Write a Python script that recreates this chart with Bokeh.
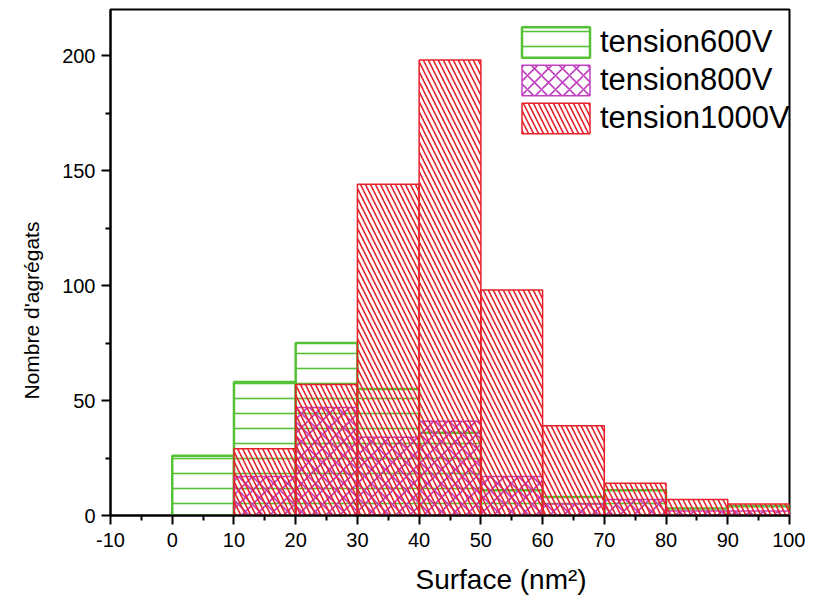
from bokeh.plotting import figure
from bokeh.models import FixedTicker, Legend, LegendItem, Range1d, Title
from bokeh.embed import file_html
from bokeh.resources import INLINE

bin_starts = [0, 10, 20, 30, 40, 50, 60, 70, 80, 90]
bin_width = 10
series_names = ["tension600V", "tension800V", "tension1000V"]
counts_600 = [26, 58, 75, 55, 36, 11, 8, 11, 3, 4]
counts_800 = [0, 17, 47, 34, 41, 17, 5, 7, 2, 2]
counts_1000 = [0, 29, 57, 144, 198, 98, 39, 14, 7, 5]
x_ticks = [-10, 0, 10, 20, 30, 40, 50, 60, 70, 80, 90, 100]
y_ticks = [0, 50, 100, 150, 200]

FONT = "Liberation Sans"

p = figure(width=805, height=607, output_backend="svg", toolbar_location=None,
           x_range=Range1d(-10, 100), y_range=Range1d(0, 220),
           min_border_left=110, min_border_right=16, min_border_top=9, min_border_bottom=84)
p.xgrid.visible = False
p.ygrid.visible = False
p.outline_line_color = "black"
p.outline_line_width = 2
p.outline_line_alpha = 1

styles = [
    dict(color="#55c236", pattern="horizontal_line", scale=15.0, lw=2.5),
    dict(color="#c040c0", pattern="diagonal_cross", scale=14.0, lw=1.5),
    dict(color="#e8202a", pattern="left_diagonal_line", scale=10.0, lw=1.5),
]
all_counts = [counts_600, counts_800, counts_1000]
items = []
for name, counts, st in zip(series_names, all_counts, styles):
    lefts = [b for b, c in zip(bin_starts, counts) if c > 0]
    rights = [b + bin_width for b, c in zip(bin_starts, counts) if c > 0]
    tops = [c for c in counts if c > 0]
    bottoms = [0] * len(tops)
    r = p.quad(left=lefts, right=rights, top=tops, bottom=bottoms,
               fill_color=None, line_color=st["color"], line_width=st["lw"],
               hatch_pattern=st["pattern"], hatch_color=st["color"],
               hatch_scale=st["scale"], hatch_weight=1.6)
    items.append(LegendItem(label=name, renderers=[r]))

legend = Legend(items=items, location=(403, 378), padding=0, margin=0, spacing=0,
                glyph_width=85, glyph_height=38, label_standoff=2,
                label_text_font=FONT, label_text_font_size="31px",
                label_text_color="black",
                background_fill_alpha=0, border_line_alpha=0)
p.add_layout(legend, "center")

p.xaxis.ticker = FixedTicker(ticks=x_ticks, minor_ticks=[t + 5 for t in x_ticks[:-1]])
p.yaxis.ticker = FixedTicker(ticks=y_ticks, minor_ticks=[25, 75, 125, 175, 225])
p.xaxis.major_label_overrides = {t: str(t) for t in x_ticks}
for ax in (p.xaxis[0], p.yaxis[0]):
    ax.axis_line_width = 2
    ax.axis_line_color = "black"
    ax.major_tick_line_width = 2
    ax.minor_tick_line_width = 2
    ax.major_tick_line_color = "black"
    ax.minor_tick_line_color = "black"
    ax.major_tick_out = 9
    ax.major_tick_in = 0
    ax.minor_tick_out = 5
    ax.minor_tick_in = 0
    ax.major_label_text_font = FONT
    ax.major_label_text_font_size = "20px"
    ax.major_label_text_color = "black"
p.xaxis.major_label_standoff = 8
p.yaxis.major_label_standoff = 6

xlabel = Title(text="Surface (nm²)", align="left", offset=305,
               text_font=FONT, text_font_size="28px", text_font_style="normal",
               text_color="black", standoff=25)
p.add_layout(xlabel, "below")
ylabel = Title(text="Nombre d'agrégats", align="left", offset=116,
               text_font=FONT, text_font_size="21px", text_font_style="normal",
               text_color="black", standoff=34)
p.add_layout(ylabel, "left")

open("out.html", "w").write(file_html(p, INLINE))
